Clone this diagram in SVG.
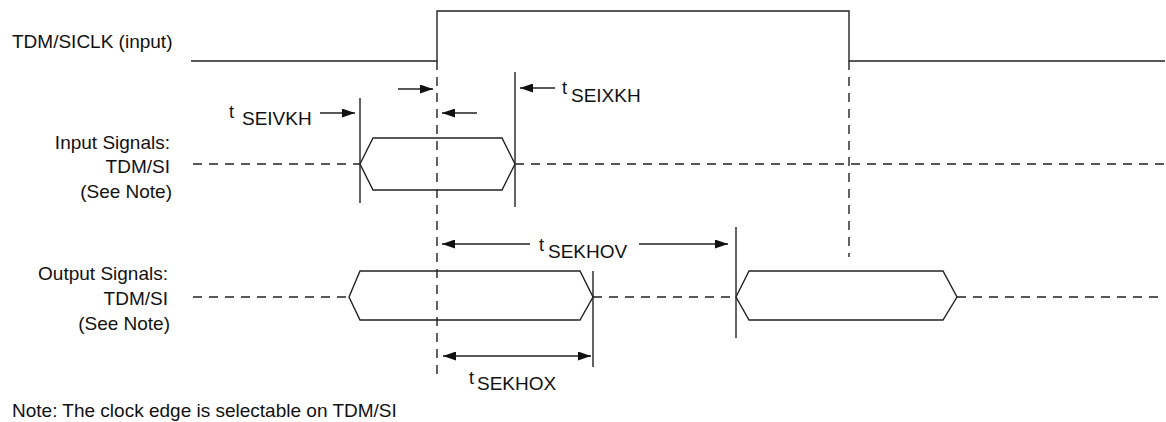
<svg xmlns="http://www.w3.org/2000/svg" width="1166" height="422" viewBox="0 0 1166 422">
<style>
.s{fill:none;stroke:#222;stroke-width:1.4}
.d{fill:none;stroke:#222;stroke-width:1.4;stroke-dasharray:9,7}
.w{fill:#fff;stroke:#222;stroke-width:1.4}
.t{font-family:"Liberation Sans",Arial,sans-serif;font-size:19px;fill:#111}
.e{text-anchor:end}
.m{font-size:18px}
</style>
<defs>
<marker id="ah" markerUnits="userSpaceOnUse" markerWidth="13" markerHeight="9" refX="13" refY="4.5" orient="auto-start-reverse">
<path d="M0,0 L13,4.5 L0,9 z" fill="#111"/>
</marker>
</defs>
<rect width="1166" height="422" fill="#fff"/>

<g id="clock">
<path class="s" d="M191,61 H437 V11 H849 V61 H1165"/>
<text class="t" x="12" y="48">TDM/SICLK (input)</text>
</g>

<g id="input-label">
<text class="t e" x="170" y="149">Input Signals:</text>
<text class="t e" x="170" y="173">TDM/SI</text>
<text class="t e" x="172" y="198">(See Note)</text>
</g>

<g id="output-label">
<text class="t e" x="168" y="280">Output Signals:</text>
<text class="t e" x="168" y="305">TDM/SI</text>
<text class="t e" x="170" y="330">(See Note)</text>
</g>

<g id="input-signal">
<path class="d" d="M193,164 H360 M515,164 H1165"/>
<path class="w" d="M360,164 L373,138 H502 L515,164 L502,190 H373 Z"/>
</g>

<g id="output-signal">
<path class="d" d="M193,297 H349 M593,297 H736 M957,297 H1165"/>
<path class="w" d="M349,297 L360,271 H580 L593,297 L580,320 H360 Z"/>
<path class="w" d="M736,297 L749,271 H943 L957,297 L943,320 H749 Z"/>
</g>

<g id="connectors">
<path class="d" d="M437,61 V377 M849,61 V257"/>
<path class="s" d="M360,98 V203 M515,72 V207 M593,271 V367 M736,227 V338"/>
<line class="s" x1="320" y1="113" x2="355" y2="113" marker-end="url(#ah)"/>
<line class="s" x1="398" y1="89" x2="433" y2="89" marker-end="url(#ah)"/>
<line class="s" x1="477" y1="113" x2="442" y2="113" marker-end="url(#ah)"/>
<line class="s" x1="555" y1="88" x2="520" y2="88" marker-end="url(#ah)"/>
<line class="s" x1="530" y1="244" x2="442" y2="244" marker-end="url(#ah)"/>
<line class="s" x1="639" y1="244" x2="728" y2="244" marker-end="url(#ah)"/>
<line class="s" x1="443" y1="356" x2="591" y2="356" marker-start="url(#ah)" marker-end="url(#ah)"/>
</g>

<g id="timing-labels">
<text class="t m" x="229" y="118">t</text>
<text class="t" x="242" y="125">SEIVKH</text>
<text class="t m" x="562" y="94">t</text>
<text class="t" x="571" y="102">SEIXKH</text>
<text class="t m" x="539" y="251">t</text>
<text class="t" x="548" y="258">SEKHOV</text>
<text class="t m" x="469" y="384">t</text>
<text class="t" x="477" y="390">SEKHOX</text>
</g>

<g id="note">
<text class="t" x="12" y="417">Note: The clock edge is selectable on TDM/SI</text>
</g>
</svg>
